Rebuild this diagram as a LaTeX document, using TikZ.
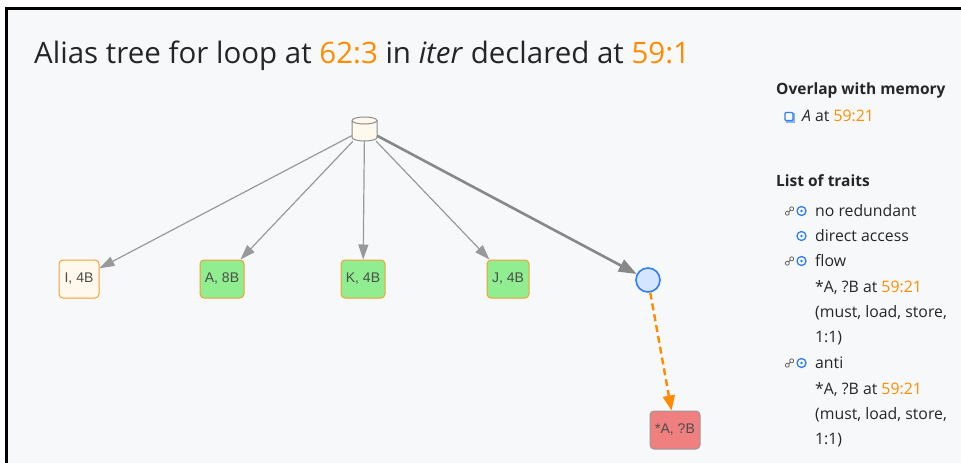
\documentclass[tikz,border=0pt]{standalone}
\usepackage{fontspec}
\setmainfont{Open Sans}
\newfontfamily\nodefont{Liberation Sans}
\usetikzlibrary{arrows.meta,shapes.geometric,calc}
\definecolor{bgc}{HTML}{F7F8FA}
\definecolor{txt}{HTML}{262626}
\definecolor{org}{HTML}{FF8C00}
\definecolor{edgec}{HTML}{999999}
\definecolor{thickc}{HTML}{888888}
\definecolor{cream}{HTML}{FFF8EC}
\definecolor{boxorg}{HTML}{F5A030}
\definecolor{lgreen}{HTML}{90EE90}
\definecolor{lcoral}{HTML}{F08080}
\definecolor{cblue}{HTML}{2F80ED}
\definecolor{cfill}{HTML}{D3E5FF}
\definecolor{linkc}{HTML}{666666}
\tikzset{
  vbox/.style={draw=boxorg, line width=1pt, rounded corners=4pt, minimum width=42pt, minimum height=38pt, inner sep=0pt, font=\nodefont\fontsize{14}{16}\selectfont, text=black!70},
  thin edge/.style={draw=edgec, line width=1.2pt, -{Triangle[length=15pt,width=10pt]}},
  thick edge/.style={draw=thickc, line width=2.6pt, -{Triangle[length=18pt,width=13pt]}},
  panel/.style={anchor=base west, inner sep=0pt, text=txt, font=\fontsize{15.8}{18}\selectfont},
  panelhead/.style={anchor=base west, inner sep=0pt, text=txt, font=\fontsize{15.5}{18}\selectfont\bfseries},
  dotring/.style={draw=cblue, line width=1.3pt, circle, minimum size=9pt, inner sep=0pt},
}
\newcommand{\linkicon}[1]{%
  \draw[linkc, line width=0.8pt] ($(#1)+(-2.2,2.2)$) circle (2pt);
  \draw[linkc, line width=0.8pt] ($(#1)+(2.2,-2.2)$) circle (2pt);
  \draw[linkc, line width=0.8pt] ($(#1)+(-0.9,0.9)$) -- ($(#1)+(0.9,-0.9)$);}
\begin{document}
\begin{tikzpicture}[x=1pt,y=-1pt]
\useasboundingbox (0,0) rectangle (961,463);
\fill[white] (0,0) rectangle (961,463);
\fill[bgc] (7.5,10) rectangle (961,463);
\draw[black, line width=3pt] (6.5,463) -- (6.5,8.5) -- (961,8.5);

% title
\node[anchor=base west, inner sep=0pt, text=txt, font=\fontsize{29.5}{34}\selectfont] (title) at (34,63)
  {Alias tree for loop at \textcolor{org}{62:3} in \textit{iter} declared at \textcolor{org}{59:1}};

% tree
\node[minimum width=25pt, minimum height=24pt, inner sep=0pt] (root) at (364.5,129) {};
\draw[fill=cream, draw=black!45, line width=1pt] (352,120.5) -- (352,137.5)
  arc[start angle=180, end angle=360, x radius=12.5pt, y radius=3.5pt] -- (377,120.5)
  arc[start angle=0, end angle=180, x radius=12.5pt, y radius=3.5pt] -- cycle;
\draw[draw=black!45, line width=1pt] (352,120.5) arc[start angle=180, end angle=360, x radius=12.5pt, y radius=3.5pt];

\node[vbox, fill=cream, minimum width=40pt] (I) at (79,279) {I, 4B};
\node[vbox, fill=lgreen, minimum width=44pt] (A) at (222,279) {A, 8B};
\node[vbox, fill=lgreen, minimum width=44pt] (K) at (363,279) {K, 4B};
\node[vbox, fill=lgreen, minimum width=42pt] (J) at (508,279) {J, 4B};
\node[circle, draw=cblue, fill=cfill, line width=1.6pt, minimum size=24pt, inner sep=0pt] (C) at (648,280) {};
\node[vbox, draw=black!40, fill=lcoral, minimum width=50pt] (R) at (675,430) {*A, ?B};

\draw[thin edge] (root) -- (I);
\draw[thin edge] (root) -- (A);
\draw[thin edge] (root) -- (K);
\draw[thin edge] (root) -- (J);
\draw[thick edge] (root) -- (C);
\draw[draw=org, line width=2.4pt, dash pattern=on 7pt off 4pt, -{Triangle[length=15pt,width=12pt]}] (C) -- (R);

% right panel
\node[panelhead] (ov) at (776,94) {Overlap with memory};
\fill[cblue!60] (786,113) rectangle (794.5,122.5);
\node[draw=cblue, fill=bgc, line width=1.3pt, minimum size=8pt, inner sep=0pt, rounded corners=1pt] (sq) at (789,116.5) {};
\node[panel] (mem) at (802,121.5) {\textit{A} at \textcolor{org}{59:21}};
\node[panelhead] (lt) at (776,186) {List of traits};

\node[dotring] (d1) at (801.5,211) {};
\fill[cblue] (d1) circle (1.4pt);
\node[panel] (t1) at (815,216.5) {no redundant};
\node[dotring] (d2) at (801.5,236) {};
\fill[cblue] (d2) circle (1.4pt);
\node[panel] (t2) at (815,241.5) {direct access};
\node[dotring] (d3) at (801.5,261) {};
\fill[cblue] (d3) circle (1.4pt);
\node[panel] (t3) at (815,266.5) {flow};
\node[panel] (t4) at (815,292) {*A, ?B at \textcolor{org}{59:21}};
\node[panel] (t5) at (815,317) {(must, load, store,};
\node[panel] (t6) at (815,342) {1:1)};
\node[dotring] (d4) at (801.5,363) {};
\fill[cblue] (d4) circle (1.4pt);
\node[panel] (t7) at (815,368.5) {anti};
\node[panel] (t8) at (815,394) {*A, ?B at \textcolor{org}{59:21}};
\node[panel] (t9) at (815,419) {(must, load, store,};
\node[panel] (t10) at (815,444) {1:1)};

\coordinate (l1) at (789.5,211);
\coordinate (l3) at (789.5,261);
\coordinate (l4) at (789.5,363);
\linkicon{l1}
\linkicon{l3}
\linkicon{l4}
\end{tikzpicture}
\end{document}
